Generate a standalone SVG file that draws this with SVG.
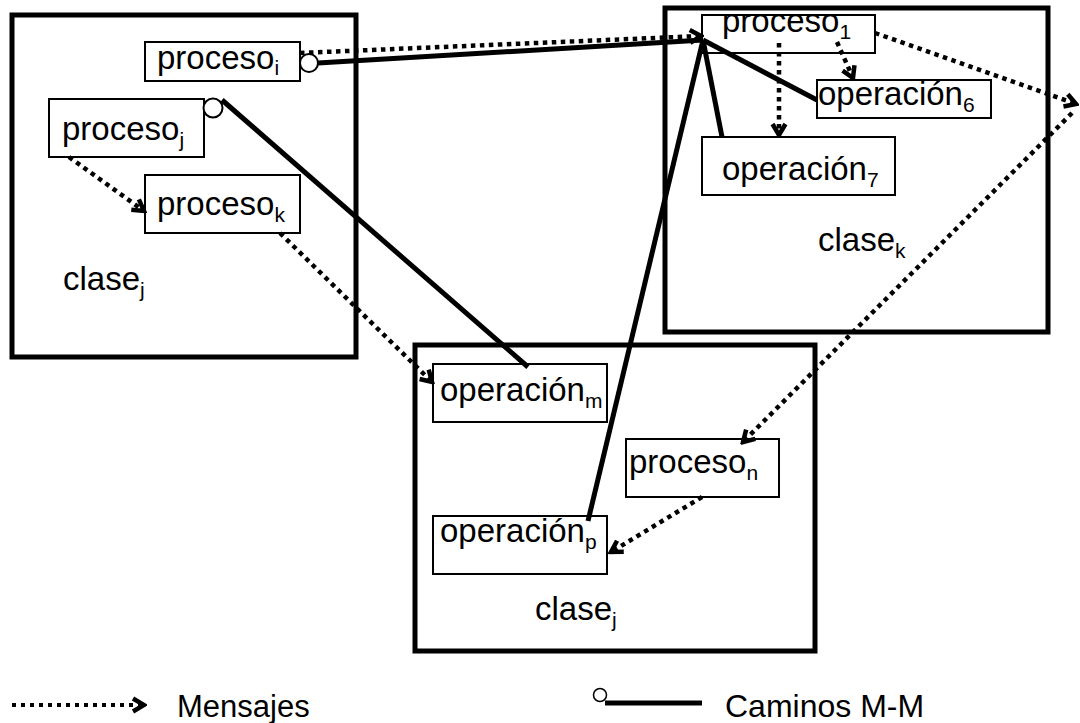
<svg xmlns="http://www.w3.org/2000/svg" width="1080" height="723" viewBox="0 0 1080 723">
  <style>
    .cls { fill: none; stroke: #000; stroke-width: 5; }
    .node { fill: #fff; stroke: #000; stroke-width: 2; }
    .lbl { font-family: "Liberation Sans", Arial, sans-serif; font-size: 33px; fill: #000; }
    .sub { font-size: 21px; }
    .msg { fill: none; stroke: #000; stroke-width: 4.5; stroke-dasharray: 4.5 4.5; }
    .path { fill: none; stroke: #000; stroke-width: 5; stroke-linecap: butt; }
    .port { fill: #fff; stroke: #000; stroke-width: 2; }
  </style>
  <defs>
    <marker id="arrow" viewBox="0 0 18 18" refX="15" refY="9" markerWidth="18" markerHeight="18" markerUnits="userSpaceOnUse" orient="auto">
      <path d="M4,2.5 L15,9 L4,15.5" fill="none" stroke="#000" stroke-width="4.5" stroke-dasharray="none" stroke-linejoin="miter"/>
    </marker>
  </defs>
  <rect width="1080" height="723" fill="#fff"/>

  <!-- class containers -->
  <g id="clase-j-left">
    <rect class="cls" x="12" y="15" width="344" height="342"/>
    <text class="lbl" x="63" y="290">clase<tspan class="sub" dy="7">j</tspan></text>
  </g>
  <g id="clase-k">
    <rect class="cls" x="665" y="8" width="383" height="324"/>
    <text class="lbl" x="818" y="251">clase<tspan class="sub" dy="7">k</tspan></text>
  </g>
  <g id="clase-j-bottom">
    <rect class="cls" x="415" y="345" width="400" height="306"/>
    <text class="lbl" x="535" y="620">clase<tspan class="sub" dy="7">j</tspan></text>
  </g>

  <!-- processes and operations -->
  <g id="proceso-i">
    <rect class="node" x="145" y="42" width="155" height="39"/>
    <text class="lbl" x="157" y="69">proceso<tspan class="sub" dy="6">i</tspan></text>
  </g>
  <g id="proceso-j">
    <rect class="node" x="49" y="99" width="155" height="58"/>
    <text class="lbl" x="62" y="140">proceso<tspan class="sub" dy="7">j</tspan></text>
  </g>
  <g id="proceso-k">
    <rect class="node" x="145" y="175" width="155" height="58"/>
    <text class="lbl" x="157" y="215">proceso<tspan class="sub" dy="7">k</tspan></text>
  </g>
  <g id="proceso-1">
    <rect class="node" x="702" y="15" width="173" height="38"/>
    <text class="lbl" x="722" y="32">proceso<tspan class="sub" dy="7">1</tspan></text>
  </g>
  <g id="operacion-6">
    <rect class="node" x="817" y="80" width="174" height="38"/>
    <text class="lbl" x="818" y="105">operación<tspan class="sub" dy="7">6</tspan></text>
  </g>
  <g id="operacion-7">
    <rect class="node" x="702" y="137" width="193" height="58"/>
    <text class="lbl" x="722" y="180">operación<tspan class="sub" dy="7">7</tspan></text>
  </g>
  <g id="operacion-m">
    <rect class="node" x="433" y="364" width="174" height="58"/>
    <text class="lbl" x="440" y="401">operación<tspan class="sub" dy="7">m</tspan></text>
  </g>
  <g id="proceso-n">
    <rect class="node" x="626" y="439" width="153" height="58"/>
    <text class="lbl" x="629" y="473">proceso<tspan class="sub" dy="7">n</tspan></text>
  </g>
  <g id="operacion-p">
    <rect class="node" x="433" y="516" width="174" height="58"/>
    <text class="lbl" x="440" y="542">operación<tspan class="sub" dy="7">p</tspan></text>
  </g>

  <!-- connectors -->
  <g id="connectors">
    <!-- M-M paths (solid) -->
    <line class="path" x1="318" y1="63" x2="703" y2="40"/>
    <line class="path" x1="703" y1="40" x2="817" y2="100"/>
    <line class="path" x1="703" y1="40" x2="722" y2="137"/>
    <line class="path" x1="703" y1="40" x2="588" y2="521"/>
    <line class="path" x1="222" y1="100" x2="528" y2="367"/>
    <circle class="port" cx="309" cy="63" r="9"/>
    <circle class="port" cx="213" cy="108" r="9.5"/>

    <!-- messages (dotted) -->
    <line class="msg" x1="300" y1="53" x2="701" y2="36" marker-end="url(#arrow)"/>
    <line class="msg" x1="69" y1="157" x2="144" y2="211" marker-end="url(#arrow)"/>
    <line class="msg" x1="280" y1="233" x2="432" y2="382" marker-end="url(#arrow)"/>
    <line class="msg" x1="779" y1="43" x2="779" y2="135" marker-end="url(#arrow)"/>
    <line class="msg" x1="837" y1="42" x2="853" y2="78" marker-end="url(#arrow)"/>
    <line class="msg" x1="875" y1="33" x2="1076" y2="104" marker-end="url(#arrow)"/>
    <line class="msg" x1="1072" y1="113" x2="743" y2="442" marker-end="url(#arrow)"/>
    <line class="msg" x1="702" y1="497" x2="611" y2="552" marker-end="url(#arrow)"/>
  </g>

  <!-- legend -->
  <g id="legend">
    <line class="msg" x1="12" y1="705" x2="144" y2="705" marker-end="url(#arrow)" style="stroke-width:4;stroke-dasharray:4 5"/>
    <text class="lbl" x="177" y="717" style="font-size:31px">Mensajes</text>
    <line class="path" x1="605" y1="703" x2="702" y2="703"/>
    <circle class="port" cx="600" cy="695" r="6.5" style="stroke-width:1.5"/>
    <text class="lbl" x="725" y="717" style="font-size:32px">Caminos M-M</text>
  </g>
</svg>
